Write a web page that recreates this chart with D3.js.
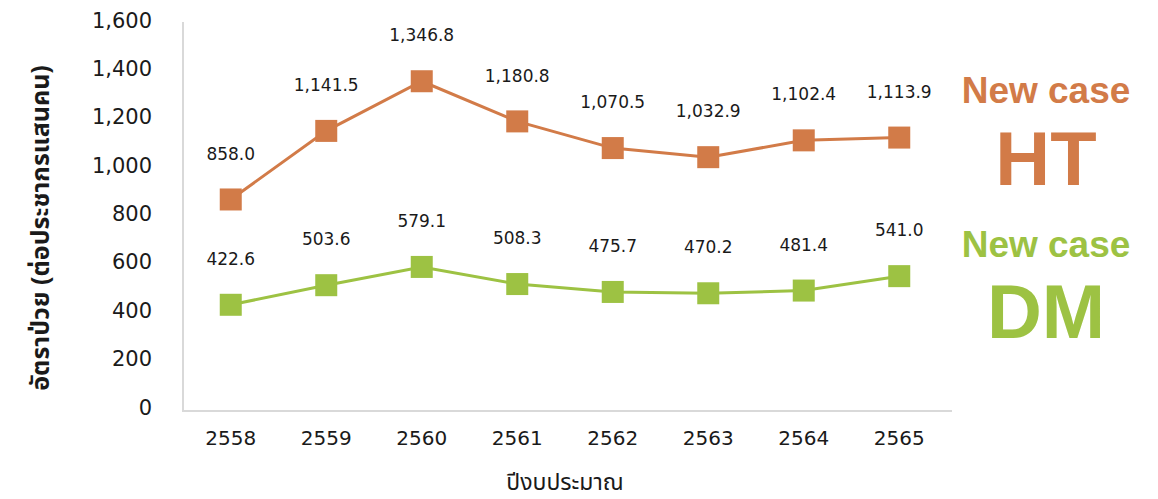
<!DOCTYPE html>
<html>
<head>
<meta charset="utf-8">
<script src="https://cdn.jsdelivr.net/npm/d3@7"></script>
<style>
  body { margin: 0; background: #fff; }
  svg { display: block; }
</style>
</head>
<body>
<svg id="chart" width="1158" height="499"></svg>
<script>
const years = ["2558", "2559", "2560", "2561", "2562", "2563", "2564", "2565"];
const htValues = [858.0, 1141.5, 1346.8, 1180.8, 1070.5, 1032.9, 1102.4, 1113.9];
const dmValues = [422.6, 503.6, 579.1, 508.3, 475.7, 470.2, 481.4, 541.0];
const yTicks = [0, 200, 400, 600, 800, 1000, 1200, 1400, 1600];

const htColor = "#d27b48";
const dmColor = "#9dc243";
const numFont = "'DejaVu Sans', Verdana, sans-serif";
const thaiFont = "'Noto Sans Thai', Tahoma, 'DejaVu Sans', sans-serif";

const svg = d3.select("#chart");

const x = d3.scaleBand().domain(years).range([183, 947]);
const y = d3.scaleLinear().domain([0, 1600]).range([407, 20]);
const cx = d => x(d) + x.bandwidth() / 2;

// frame (left + bottom)
svg.append("path")
    .attr("d", "M183,22V411H952")
    .attr("fill", "none")
    .attr("stroke", "#d9d9d9")
    .attr("stroke-width", 2);

// y tick labels
svg.append("g")
    .selectAll("text")
    .data(yTicks)
    .join("text")
    .attr("x", 152)
    .attr("y", d => y(d))
    .attr("dy", "0.36em")
    .attr("text-anchor", "end")
    .attr("font-family", numFont)
    .attr("font-size", 21)
    .attr("fill", "#1a1a1a")
    .text(d => d3.format(",")(d));

// x tick labels
svg.append("g")
    .selectAll("text")
    .data(years)
    .join("text")
    .attr("x", d => cx(d))
    .attr("y", 438)
    .attr("dy", "0.36em")
    .attr("text-anchor", "middle")
    .attr("font-family", numFont)
    .attr("font-size", 20)
    .attr("fill", "#1a1a1a")
    .text(d => d);

// axis titles
svg.append("text")
    .attr("x", 565)
    .attr("y", 482)
    .attr("dy", "0.36em")
    .attr("text-anchor", "middle")
    .attr("font-family", thaiFont)
    .attr("font-size", 23)
    .attr("fill", "#1a1a1a")
    .text("ปีงบประมาณ");

svg.append("text")
    .attr("transform", "translate(40,228) rotate(-90)")
    .attr("dy", "0.36em")
    .attr("text-anchor", "middle")
    .attr("font-family", thaiFont)
    .attr("font-size", 25)
    .attr("font-weight", "bold")
    .attr("fill", "#1a1a1a")
    .text("อัตราป่วย (ต่อประชากรแสนคน)");

function drawSeries(values, color) {
    const pts = years.map((yr, i) => [yr, values[i]]);
    const line = d3.line().x(d => cx(d[0])).y(d => y(d[1]));

    svg.append("path")
        .datum(pts)
        .attr("d", line)
        .attr("fill", "none")
        .attr("stroke", color)
        .attr("stroke-width", 3);

    svg.append("g")
        .selectAll("rect")
        .data(pts)
        .join("rect")
        .attr("x", d => cx(d[0]) - 11)
        .attr("y", d => y(d[1]) - 11)
        .attr("width", 22)
        .attr("height", 22)
        .attr("fill", color);

    svg.append("g")
        .selectAll("text")
        .data(pts)
        .join("text")
        .attr("x", d => cx(d[0]))
        .attr("y", d => y(d[1]) - 46)
        .attr("dy", "0.36em")
        .attr("text-anchor", "middle")
        .attr("font-family", numFont)
        .attr("font-size", 17)
        .attr("fill", "#1a1a1a")
        .text(d => d3.format(",.1f")(d[1]));
}

drawSeries(htValues, htColor);
drawSeries(dmValues, dmColor);

// right-side labels
const legend = [
    { text: "New case", y: 90, size: 37, color: htColor },
    { text: "HT", y: 158, size: 76, color: htColor },
    { text: "New case", y: 244, size: 37, color: dmColor },
    { text: "DM", y: 311, size: 76, color: dmColor }
];
svg.append("g")
    .selectAll("text")
    .data(legend)
    .join("text")
    .attr("x", 1046)
    .attr("y", d => d.y)
    .attr("dy", "0.36em")
    .attr("text-anchor", "middle")
    .attr("font-family", "'Liberation Sans', Arial, sans-serif")
    .attr("font-weight", "bold")
    .attr("font-size", d => d.size)
    .attr("fill", d => d.color)
    .text(d => d.text);
</script>
</body>
</html>
